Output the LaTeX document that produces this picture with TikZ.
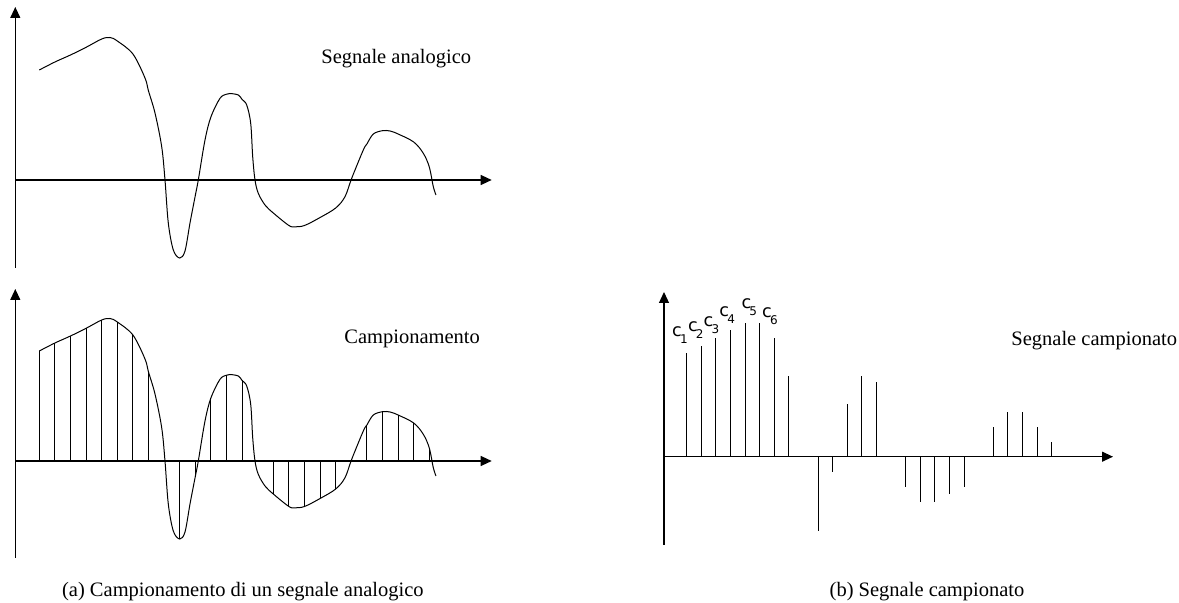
\documentclass[tikz,border=0pt]{standalone}
\usepackage{fontspec}
\setmainfont{Liberation Serif}
\newfontfamily\csans{DejaVu Sans}
\usetikzlibrary{arrows.meta}
\tikzset{
  axis/.style={line width=0.6pt,-{Triangle[length=5.5pt,width=5pt]}},
  curve/.style={line width=0.5pt,smooth,tension=0.55},
  stem/.style={line width=0.5pt},
  lbl/.style={font=\fontsize{10.25}{12}\selectfont,anchor=base west,inner sep=0pt},
  clbl/.style={font=\csans\fontsize{8.8}{10}\selectfont,anchor=base west,inner sep=0pt},
}
\newcommand{\csub}[1]{c\kern-0.9pt\raisebox{-3.2pt}{\fontsize{6}{6}\selectfont #1}}
\newcommand{\sigcurve}{plot coordinates {(39.3,110) (54.9,118) (70.5,125) (86.1,132.7) (101.7,141) (110,142.5) (117.3,139) (132.9,126) (145,102) (148.5,89) (155,67) (161.7,33.3) (165,0) (168.3,-43) (173.3,-70) (179.7,-78) (185,-71) (190,-43) (195.3,-15.5) (198.3,0) (205,40) (210.9,63) (220,81.7) (226.5,85.8) (230,86.5) (238.3,85) (242.1,80.5) (246.7,75) (250.7,56.7) (252.7,23.3) (255,0) (258.3,-13.3) (265,-25) (273.3,-33) (288.9,-45.5) (295,-46.8) (304.5,-45.5) (320.1,-37.5) (335.7,-28) (345,-16.7) (351.7,1.7) (363.3,30) (366.9,36) (373.3,46) (382.5,49.3) (390,49) (398.1,46) (413.7,38) (423.3,26.7) (429.3,13) (433.3,-6.7) (436,-15)}}
\begin{document}
\begin{tikzpicture}[x=0.5pt,y=-0.5pt]
\useasboundingbox (0,0) rectangle (1179,603);
% ---- top plot: analog signal
\coordinate (tyb) at (15.3,268);
\coordinate (tyt) at (15.3,7);
\coordinate (txl) at (15.3,180);
\coordinate (txr) at (491.7,180);
\draw[axis] (tyb) -- (tyt);
\draw[axis] (txl) -- (txr);
\begin{scope}[shift={(0,180)},yscale=-1]
  \draw[curve] \sigcurve;
\end{scope}
\node[lbl] (lana) at (321,63.5) {Segnale analogico};
% ---- bottom-left plot: sampling
\coordinate (byb) at (15.3,558);
\coordinate (byt) at (15.3,289);
\coordinate (bxl) at (15.3,461);
\coordinate (bxr) at (491.7,461);
\draw[axis] (byb) -- (byt);
\draw[axis] (bxl) -- (bxr);
\begin{scope}[shift={(0,461)},yscale=-1]
  \draw[curve] \sigcurve;
  \foreach \k/\h in {0/110,1/118,2/125,3/132.7,4/141,5/139,6/126,7/89,9/-78,10/-15.5,11/63,12/85.8,13/80.5,15/-33,16/-45.5,17/-45.5,18/-37.5,19/-28,21/36,22/49.3,23/46,24/38,25/13}{
    \coordinate (s\k) at ({39.3+\k*15.6},0);
    \coordinate (t\k) at ({39.3+\k*15.6},\h);
    \draw[stem] (s\k) -- (t\k);
  }
\end{scope}
\node[lbl] (lcamp) at (344,343.5) {Campionamento};
% ---- right plot: sampled signal
\coordinate (ryb) at (664,545);
\coordinate (ryt) at (664,292);
\coordinate (rxl) at (664,456.7);
\coordinate (rxr) at (1113,456.7);
\draw[axis] (ryb) -- (ryt);
\draw[axis] (rxl) -- (rxr);
\begin{scope}[shift={(0,456.7)},yscale=-1]
  \foreach \k/\h in {0/103.3,1/111,2/119,3/126.7,4/134,5/134,6/119,7/81,9/-74,10/-15,11/52.3,12/81,13/74.3,15/-30,16/-45,17/-45,18/-37.3,19/-30,21/29.7,22/44.3,23/44.3,24/29.7,25/14.3}{
    \coordinate (rs\k) at ({686.7+\k*14.6},0);
    \coordinate (rt\k) at ({686.7+\k*14.6},\h);
    \draw[stem] (rs\k) -- (rt\k);
  }
\end{scope}
\node[clbl] (c1) at (671.8,336.7) {\csub{1}};
\node[clbl] (c2) at (687.6,331.7) {\csub{2}};
\node[clbl] (c3) at (703.3,326.7) {\csub{3}};
\node[clbl] (c4) at (719,316.7) {\csub{4}};
\node[clbl] (c5) at (741.2,309) {\csub{5}};
\node[clbl] (c6) at (761.8,317.7) {\csub{6}};
\node[lbl] (lsc) at (1011,345.5) {Segnale campionato};
% ---- captions
\node[lbl] (capa) at (61.7,596.5) {(a) Campionamento di un segnale analogico};
\node[lbl] (capb) at (829.3,596.5) {(b) Segnale campionato};
\end{tikzpicture}
\end{document}
